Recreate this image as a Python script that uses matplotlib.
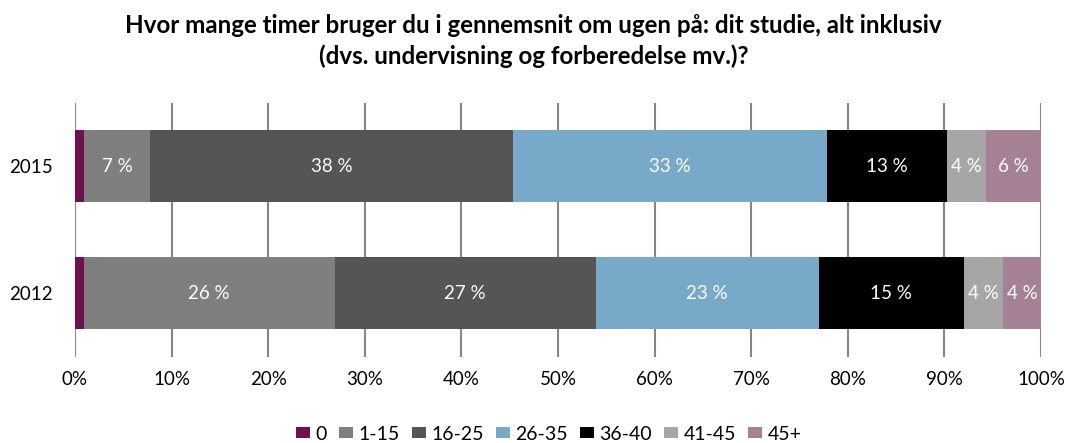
import matplotlib
matplotlib.use("Agg")
import matplotlib.pyplot as plt
import numpy as np

plt.rcParams['font.family'] = ['Lato', 'DejaVu Sans']

years = ["2012", "2015"]
categories = ["0", "1-15", "16-25", "26-35", "36-40", "41-45", "45+"]
values_2012 = [0.9, 26.0, 27.0, 23.1, 15.0, 4.1, 3.9]
values_2015 = [0.9, 6.9, 37.5, 32.5, 12.5, 4.0, 5.7]
colors = ["#6E1150", "#7F7F7F", "#555555", "#78A9C8", "#000000", "#A6A6A6", "#A68196"]
xticks = [0, 10, 20, 30, 40, 50, 60, 70, 80, 90, 100]
title = "Hvor mange timer bruger du i gennemsnit om ugen på: dit studie, alt inklusiv\n(dvs. undervisning og forberedelse mv.)?"

fig = plt.figure(figsize=(10.67, 4.43), dpi=100)
ax = fig.add_axes([75/1067, 1-356.7/443, (1041-75)/1067, (356.7-103)/443])

data = np.array([values_2012, values_2015])
ypos = np.arange(len(years))
left = np.zeros(len(years))
handles = []
for i, cat in enumerate(categories):
    vals = data[:, i]
    b = ax.barh(ypos, vals, left=left, height=0.568, color=colors[i], label=cat, zorder=3)
    handles.append(b)
    if i > 0:
        for y, v, l in zip(ypos, vals, left):
            ax.text(l + v/2, y, f"{int(v + 0.5)} %", ha='center', va='center', color='white',
                    fontsize=13.5, zorder=4)
    left += vals

ax.set_xlim(0, 100)
ax.set_ylim(-0.5, 1.5)
ax.set_yticks(ypos)
ax.set_yticklabels(years, fontsize=13.5)
ax.set_xticks(xticks)
ax.set_xticklabels([f"{t}%" for t in xticks], fontsize=13.5)
ax.tick_params(length=0, pad=10)
ax.tick_params(axis='y', pad=16)
ax.xaxis.grid(True, color='#868686', linewidth=1.5, zorder=0)
for s in ax.spines.values():
    s.set_visible(False)

fig.text(0.5, 1-41/443, title, ha='center', va='center', fontsize=17.4, fontweight='bold', linespacing=1.35)

fig.legend(handles=handles, labels=categories, loc='center', bbox_to_anchor=(549/1067, 1-434/443),
           ncol=7, frameon=False, fontsize=14, handlelength=0.7, handleheight=0.5,
           handletextpad=0.3, columnspacing=0.62)

fig.savefig("out.png", dpi=100)
